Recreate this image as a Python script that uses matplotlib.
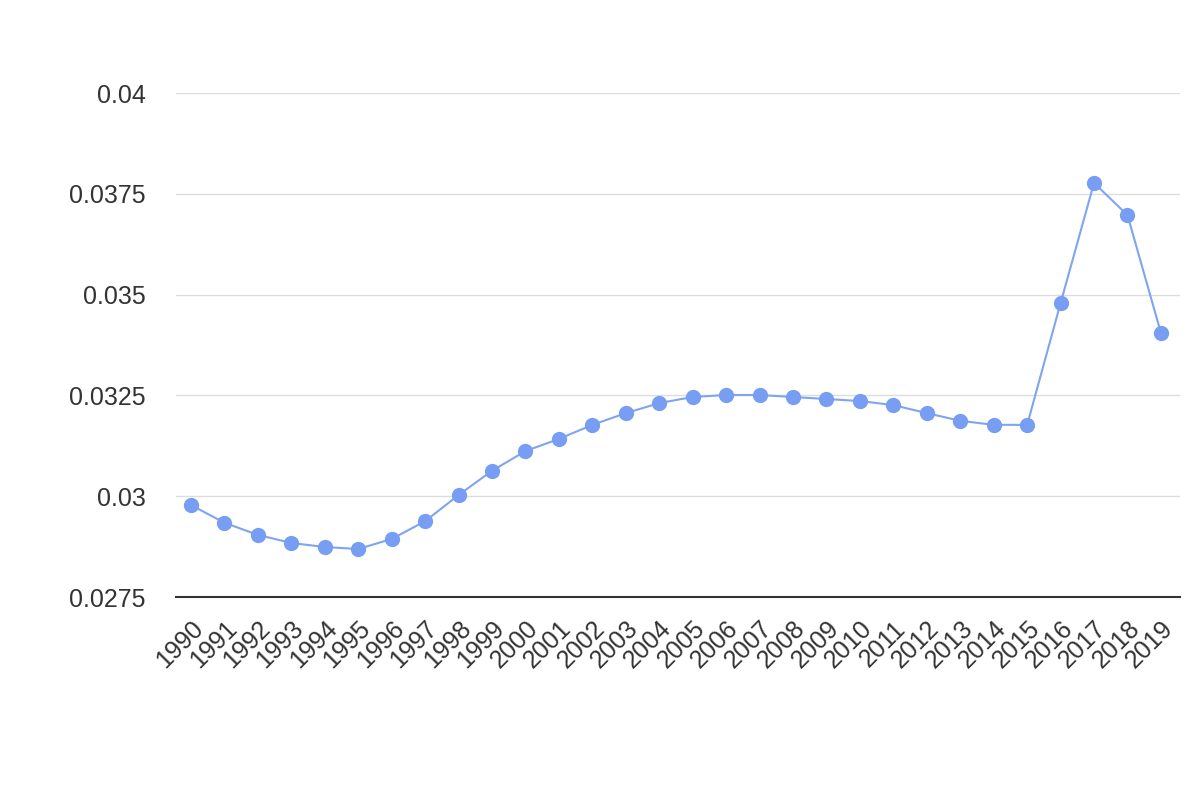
import matplotlib
matplotlib.use("Agg")
from matplotlib import pyplot as plt

years = [str(y) for y in range(1990, 2020)]
values = [0.02978, 0.02934, 0.02904, 0.02884, 0.02874, 0.02869, 0.02894,
          0.02938, 0.03003, 0.03063, 0.03112, 0.03142, 0.03177, 0.03206,
          0.03231, 0.03246, 0.03251, 0.03251, 0.03246, 0.03241, 0.03236,
          0.03226, 0.03206, 0.03187, 0.03177, 0.03177, 0.03479, 0.03777,
          0.03697, 0.03405]
yticks = [0.0275, 0.03, 0.0325, 0.035, 0.0375, 0.04]
ytick_labels = ["0.0275", "0.03", "0.0325", "0.035", "0.0375", "0.04"]

plt.rcParams['font.family'] = ['Liberation Sans', 'DejaVu Sans']

fig = plt.figure(figsize=(12, 8), dpi=100)
ax = fig.add_axes([176 / 1200, 1 - 597 / 800, (1180 - 176) / 1200, (597 - 93) / 800])

x = list(range(len(years)))
ax.plot(x, values, color="#7ea5ee", linewidth=1.5, marker="o",
        markersize=11, markerfacecolor="#779ef2", markeredgewidth=0, zorder=3)

ax.set_xlim(-0.45, 29.57)
ax.set_ylim(0.0275, 0.04)
ax.set_yticks(yticks)
ax.set_yticklabels(ytick_labels)
ax.set_xticks(x)
ax.set_xticklabels(years, rotation=45, ha="right", rotation_mode="anchor")

ax.grid(axis="y", color="#dddddd", linewidth=1)
ax.set_axisbelow(True)
for s in ["top", "right", "left"]:
    ax.spines[s].set_visible(False)
ax.spines["bottom"].set_color("#333333")
ax.spines["bottom"].set_linewidth(1.5)
ax.spines["bottom"].set_zorder(4)
ax.tick_params(axis="both", length=0, labelsize=18, colors="#333333")
ax.tick_params(axis="y", pad=22)
ax.tick_params(axis="x", pad=14)

fig.savefig("out.png", dpi=100)
